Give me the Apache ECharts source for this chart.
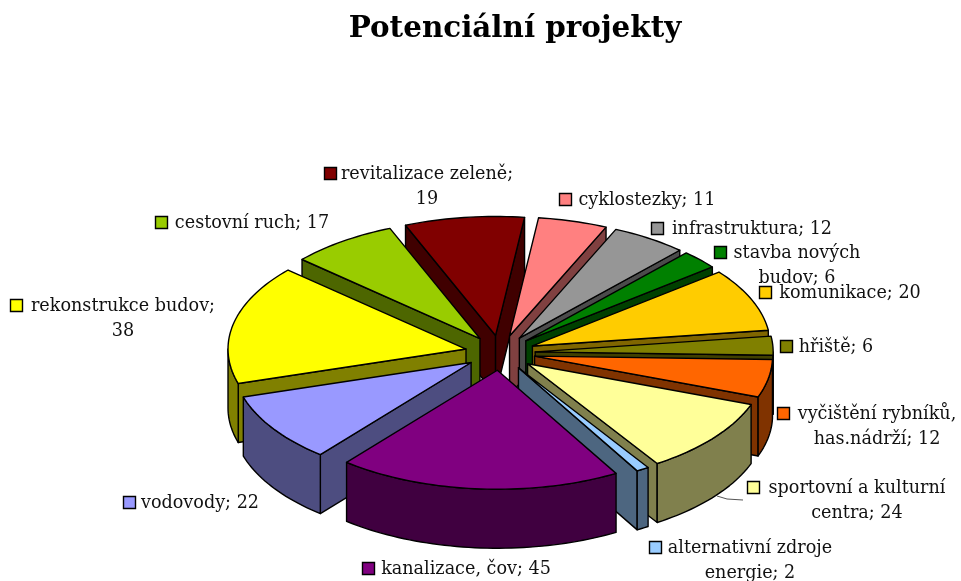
<!DOCTYPE html>
<html><head><meta charset="utf-8">
<style>html,body{margin:0;padding:0;background:#fff}#c{width:961px;height:581px}</style>
<script src="https://cdn.jsdelivr.net/npm/echarts@6/dist/echarts.min.js"></script>
</head><body><div id="c"></div>
<script>
const categories = ['cyklostezky','infrastruktura','stavba nových budov','komunikace','hřiště','vyčištění rybníků, has.nádrží','sportovní a kulturní centra','alternativní zdroje energie','kanalizace, čov','vodovody','rekonstrukce budov','cestovní ruch','revitalizace zeleně'];
const values = [11,12,6,20,6,12,24,2,45,22,38,17,19];
const labelTexts = ['cyklostezky; 11','infrastruktura; 12','stavba nových\nbudov; 6','komunikace; 20','hřiště; 6','vyčištění rybníků,\nhas.nádrží; 12','sportovní a kulturní\ncentra; 24','alternativní zdroje\nenergie; 2','kanalizace, čov; 45','vodovody; 22','rekonstrukce budov;\n38','cestovní ruch; 17','revitalizace zeleně;\n19'];
const colors = ['#FF8080','#969696','#008000','#FFCC00','#808000','#FF6600','#FFFF99','#99CCFF','#800080','#9999FF','#FFFF00','#99CC00','#800000'];
// label layout: text centre x, first line centre y, swatch left x
const labelLayout = [[647,200,559],[752,229,651],[797,253,714],[850,293,759],[836,347,780],[877,414,777],[857,488,747],[750,548,649],[466,569,362],[200,503,123],[123,306,10],[252,223,155],[427,174,324]];

const CX=500.2, CY=352.8, RX=238, RY=119, DEPTH=59, EXPLODE=35, START=7;
const FONT='"DejaVu Serif", serif', FS=17.6;
const total=values.reduce((a,b)=>a+b,0);
const rad=d=>d*Math.PI/180;
const angleOf=v=>echarts.number.linearMap(v,[0,total],[START,START+360]);
let run=0; const spans=values.map(v=>{const s=[angleOf(run),angleOf(run+v)];run+=v;return s;});
const order=values.map((_,i)=>i).sort((a,b)=>Math.cos(rad((spans[b][0]+spans[b][1])/2))-Math.cos(rad((spans[a][0]+spans[a][1])/2)));
function darken(hex){const n=parseInt(hex.slice(1),16);const f=x=>Math.round(x*0.5);return `rgb(${f(n>>16&255)},${f(n>>8&255)},${f(n&255)})`;}
function renderSlice(params,api){
  const i=params.dataIndex, v=api.value(0); if(!v) return;
  const [a,b]=spans[i], mid=(a+b)/2;
  const ax=CX+EXPLODE*Math.sin(rad(mid)), ay=CY-EXPLODE*0.5*Math.cos(rad(mid));
  const pt=(t,dz)=>[ax+RX*Math.sin(rad(t)),ay-RY*Math.cos(rad(t))+(dz||0)];
  const arc=(s,e,dz)=>{const n=Math.max(2,Math.ceil((e-s)/1.5));const r=[];for(let k=0;k<=n;k++)r.push(pt(s+(e-s)*k/n,dz));return r;};
  const base=(order.indexOf(i)+1)*10;
  const side=darken(colors[i]);
  const poly=(points,fill,z)=>({type:'polygon',z2:base+z,shape:{points},style:{fill,stroke:'#000',lineWidth:1.4,lineJoin:'round'}});
  const kids=[];
  if(Math.cos(rad(a-90))<0) kids.push(poly([[ax,ay],pt(a),pt(a,DEPTH),[ax,ay+DEPTH]],side,0));
  if(Math.cos(rad(b+90))<0) kids.push(poly([[ax,ay],pt(b),pt(b,DEPTH),[ax,ay+DEPTH]],side,1));
  const s=Math.max(a,90), e=Math.min(b,270);
  if(e>s) kids.push(poly(arc(s,e,0).concat(arc(s,e,DEPTH).reverse()),side,2));
  kids.push(poly([[ax,ay]].concat(arc(a,b,0)),colors[i],3));
  return {type:'group',children:kids};
}
function renderLabel(params,api){
  const i=params.dataIndex, [cx,y,sx]=labelLayout[i];
  return {type:'group',children:[
    {type:'rect',z2:500,shape:{x:sx+.5,y:y-6.5,width:12,height:12},style:{fill:colors[i],stroke:'#000',lineWidth:1.4}},
    {type:'text',z2:501,x:cx,y:y-12,style:{text:labelTexts[i],font:FS+'px '+FONT,fill:'#111',align:'center',verticalAlign:'top',lineHeight:25}}
  ]};
}
const chart=echarts.init(document.getElementById('c'),null,{renderer:'canvas'});
chart.setOption({
  animation:false,backgroundColor:'#fff',
  title:{text:'Potenciální projekty',left:510,textAlign:'center',top:10,textStyle:{fontFamily:FONT,fontWeight:'bold',fontSize:29.4,color:'#000'}},
  series:[
    {type:'custom',coordinateSystem:'none',renderItem:renderSlice,data:values.map(v=>[v]),silent:true},
    {type:'custom',coordinateSystem:'none',renderItem:renderLabel,data:categories.map((c,i)=>({name:c,value:[values[i]]})),silent:true}
  ],
  graphic:[{type:'polyline',z:10,shape:{points:[[717,496],[727,499],[743,500]]},style:{stroke:'#555',fill:null,lineWidth:1}}]
});
</script></body></html>
